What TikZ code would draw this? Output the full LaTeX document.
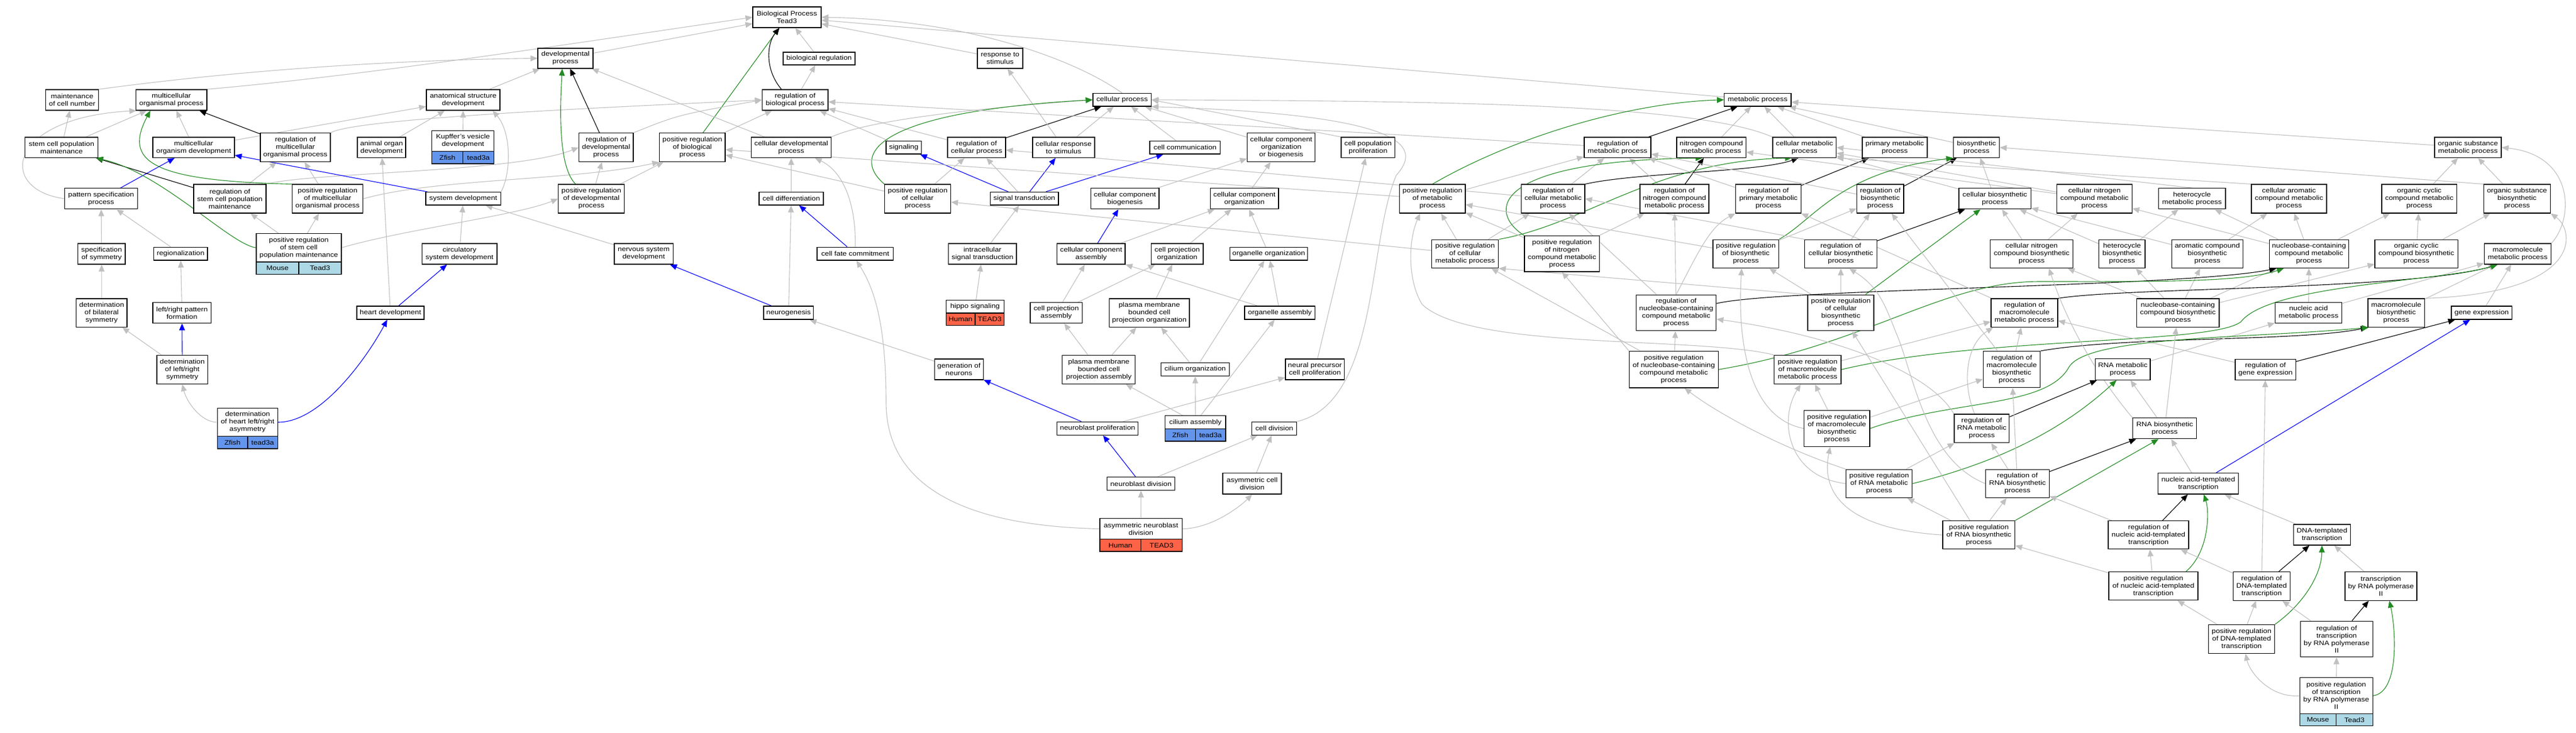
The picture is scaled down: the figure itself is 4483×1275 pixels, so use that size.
\documentclass[tikz,border=0pt]{standalone}
\usepackage{fontspec}
\setmainfont[FakeStretch=1.14]{Liberation Sans}
\usetikzlibrary{arrows.meta}
\pgfdeclarelayer{bgfill}
\pgfdeclarelayer{edges}
\pgfsetlayers{bgfill,edges,main}
\definecolor{egray}{RGB}{192,192,192}
\definecolor{egreen}{RGB}{34,139,34}
\definecolor{eblue}{RGB}{0,0,255}
\definecolor{spmouse}{RGB}{173,216,230}
\definecolor{spfish}{RGB}{100,149,237}
\definecolor{sphuman}{RGB}{255,99,71}
\newcommand\gn[6]{\node[gobox,minimum width={#4-#2},minimum height={#5-#3}] (#1) at ({(#2+#4)/2},{(#3+#5)/2}) {#6};}
\newcommand\gsp[8]{%
\node[spbox,fill=#6,minimum width={(#4-#2)/2},minimum height={#5-#3}] (#1a) at ({#2+(#4-#2)/4},{(#3+#5)/2}) {#7};
\node[spbox,fill=#6,minimum width={(#4-#2)/2},minimum height={#5-#3}] (#1b) at ({#2+3*(#4-#2)/4},{(#3+#5)/2}) {#8};}
\begin{document}
\begin{tikzpicture}[x=1pt,y=-1pt,
  gobox/.style={draw=black,line width=1.3pt,fill=white,inner sep=0pt,align=center,font=\fontsize{11.3}{13}\selectfont},
  spbox/.style={draw=black,line width=1.3pt,inner sep=0pt,align=center,font=\fontsize{11.3}{13}\selectfont},
  edgebase/.style={line width=1.1pt,-{Triangle[length=12pt,width=10pt]}},
  isa/.style={edgebase,draw=egray},
  reg/.style={edgebase,draw=black},
  preg/.style={edgebase,draw=egreen},
  partof/.style={edgebase,draw=eblue}]
\useasboundingbox (0,0) rectangle (4483,1275);
\begin{pgfonlayer}{bgfill}
\fill[white] (0,0) rectangle (4483,1275);
\end{pgfonlayer}
% ---------- nodes ----------
\gn{BP}{1310}{12}{1429}{48}{Biological Process\\Tead3}
\gn{devp}{936}{84}{1032}{119}{developmental\\process}
\gn{resp}{1701}{84}{1780}{119}{response to\\stimulus}
\gn{bioreg}{1363}{91}{1488}{113}{biological regulation}
\gn{mcn}{79.5}{156}{171.6}{192}{maintenance\\of cell number}
\gn{mop}{236.5}{156}{360}{192}{multicellular\\organismal process}
\gn{asd}{742}{156}{870}{192}{anatomical structure\\development}
\gn{rbp}{1326.5}{156}{1441}{192}{regulation of\\biological process}
\gn{cp}{1902}{162.5}{2003.5}{185}{cellular process}
\gn{mp}{3000.7}{162.5}{3117}{185}{metabolic process}
% row 3
\gn{scpm}{43.6}{239}{170.6}{274.4}{stem cell population\\maintenance}
\gn{mod}{266}{239}{408}{274.4}{multicellular\\organism development}
\gn{rmop}{453}{231.7}{575}{281.5}{regulation of\\multicellular\\organismal process}
\gn{aod}{622}{239}{706}{274.4}{animal organ\\development}
\gn{kvd}{751.6}{227.8}{859.7}{263.3}{Kupffer's vesicle\\development}
\gsp{kvdsp}{751.6}{263.3}{859.7}{285.1}{spfish}{Zfish}{tead3a}
\gn{rdp}{1007.6}{231.7}{1102}{281.5}{regulation of\\developmental\\process}
\gn{prbp}{1147.7}{231.7}{1262}{281.5}{positive regulation\\of biological\\process}
\gn{cdp}{1307.6}{239}{1446.3}{274.4}{cellular developmental\\process}
\gn{sig}{1542}{245.2}{1603.6}{268.1}{signaling}
\gn{rcp}{1649}{239}{1750}{274.4}{regulation of\\cellular process}
\gn{crs}{1797}{239}{1905}{274.4}{cellular response\\to stimulus}
\gn{cc}{2001}{245.2}{2123.7}{268.1}{cell communication}
\gn{ccob}{2170.7}{231.7}{2288.8}{281.5}{cellular component\\organization\\or biogenesis}
\gn{cpp}{2334}{239}{2427.5}{274.4}{cell population\\proliferation}
\gn{rmp}{2757}{239}{2873}{274.4}{regulation of\\metabolic process}
\gn{ncmp}{2918}{239}{3038.5}{274.4}{nitrogen compound\\metabolic process}
\gn{cmp}{3085}{239}{3195.6}{274.4}{cellular metabolic\\process}
\gn{pmp}{3241}{239}{3354}{274.4}{primary metabolic\\process}
\gn{bsp}{3399.6}{239}{3479.6}{274.4}{biosynthetic\\process}
\gn{osmp}{4236.8}{239}{4353}{274.4}{organic substance\\metabolic process}
% row 4
\gn{pss}{112.5}{327.8}{239.5}{363.8}{pattern specification\\process}
\gn{rscpm}{337}{321.1}{463}{370.9}{regulation of\\stem cell population\\maintenance}
\gn{prmop}{508.5}{321.1}{631.6}{370.9}{positive regulation\\of multicellular\\organismal process}
\gn{sd}{741}{334.5}{871.4}{357}{system development}
\gn{prdp}{971.7}{321.1}{1086.6}{370.9}{positive regulation\\of developmental\\process}
\gn{cdiff}{1321}{334.5}{1433}{357}{cell differentiation}
\gn{prcp}{1539.6}{321.1}{1654.5}{370.9}{positive regulation\\of cellular\\process}
\gn{st}{1723.3}{334.5}{1842}{357}{signal transduction}
\gn{ccb}{1898.3}{327.8}{2017}{363.8}{cellular component\\biogenesis}
\gn{cco}{2106.3}{327.8}{2225}{363.8}{cellular component\\organization}
\gn{prmp}{2435.7}{321.1}{2550}{370.9}{positive regulation\\of metabolic\\process}
\gn{rcmp}{2647.5}{321.1}{2758}{370.9}{regulation of\\cellular metabolic\\process}
\gn{rncmp}{2854}{321.1}{2974}{370.9}{regulation of\\nitrogen compound\\metabolic process}
\gn{rpmp}{3020.6}{321.1}{3134.5}{370.9}{regulation of\\primary metabolic\\process}
\gn{rbsp}{3231.5}{321.1}{3313}{370.9}{regulation of\\biosynthetic\\process}
\gn{cbsp}{3408.9}{327.8}{3534.4}{363.8}{cellular biosynthetic\\process}
\gn{cncmp}{3579.5}{321.1}{3710.4}{370.9}{cellular nitrogen\\compound metabolic\\process}
\gn{hmp}{3756.5}{327.8}{3872.8}{363.8}{heterocycle\\metabolic process}
\gn{camp}{3918}{321.1}{4049}{370.9}{cellular aromatic\\compound metabolic\\process}
\gn{occmp}{4144.8}{321.1}{4275.7}{370.9}{organic cyclic\\compound metabolic\\process}
\gn{osbp}{4322.4}{321.1}{4438.2}{370.9}{organic substance\\biosynthetic\\process}
% row 5
\gn{sos}{135.7}{423.9}{218}{459.9}{specification\\of symmetry}
\gn{reg}{267.6}{430.2}{361}{453.1}{regionalization}
\gn{prscpm}{446}{406.5}{594}{455.9}{positive regulation\\of stem cell\\population maintenance}
\gsp{prscpmsp}{446}{455.9}{594}{477.3}{spmouse}{Mouse}{Tead3}
\gn{csd}{734.4}{423.9}{865}{459.9}{circulatory\\system development}
\gn{nsd}{1069}{423.9}{1171.4}{459.9}{nervous system\\development}
\gn{cfc}{1422}{430.2}{1554.6}{453.1}{cell fate commitment}
\gn{ist}{1650.6}{423.9}{1769}{459.9}{intracellular\\signal transduction}
\gn{cca}{1839.7}{423.9}{1958}{459.9}{cellular component\\assembly}
\gn{cpo}{2003.5}{423.9}{2094}{459.9}{cell projection\\organization}
\gn{oo}{2140.2}{430.2}{2275.7}{453.1}{organelle organization}
\gn{prcmp}{2491.5}{417.2}{2607.8}{466.6}{positive regulation\\of cellular\\metabolic process}
\gn{prncmp}{2652.9}{410.4}{2783.7}{472.9}{positive regulation\\of nitrogen\\compound metabolic\\process}
\gn{prbsp}{2981}{417.2}{3095.6}{466.6}{positive regulation\\of biosynthetic\\process}
\gn{rcbsp}{3140.8}{417.2}{3266.4}{466.6}{regulation of\\cellular biosynthetic\\process}
\gn{cncbp}{3463.6}{417.2}{3607.6}{466.6}{cellular nitrogen\\compound biosynthetic\\process}
\gn{hbp}{3652.8}{417.2}{3733}{466.6}{heterocycle\\biosynthetic\\process}
\gn{acbp}{3779.4}{417.2}{3903.5}{466.6}{aromatic compound\\biosynthetic\\process}
\gn{nccmp}{3949.2}{417.2}{4087.4}{466.6}{nucleobase-containing\\compound metabolic\\process}
\gn{occbp}{4133}{417.2}{4277.2}{466.6}{organic cyclic\\compound biosynthetic\\process}
\gn{mmp}{4323.4}{423.9}{4439.7}{459.9}{macromolecule\\metabolic process}
% row 6
\gn{dbs}{132.8}{520}{221}{569.4}{determination\\of bilateral\\symmetry}
\gn{lrpf}{266}{526.7}{367.4}{562.3}{left/right pattern\\formation}
\gn{hd}{621}{533}{738}{556}{heart development}
\gn{ns}{1329}{533}{1415.7}{556}{neurogenesis}
\gn{hippo}{1646.3}{522.7}{1747.6}{544.9}{hippo signaling}
\gsp{hipposp}{1646.3}{544.9}{1747.6}{566.6}{sphuman}{Human}{TEAD3}
\gn{cpa}{1793}{526.7}{1883.3}{562.3}{cell projection\\assembly}
\gn{pmbcpo}{1930.3}{520}{2070}{569.4}{plasma membrane\\bounded cell\\projection organization}
\gn{oa}{2166}{533}{2288.8}{556}{organelle assembly}
\gn{rnccmp}{2847.6}{513.2}{2986.6}{575.7}{regulation of\\nucleobase-containing\\compound metabolic\\process}
\gn{prcbsp}{3146}{513.2}{3261}{575.7}{positive regulation\\of cellular\\biosynthetic\\process}
\gn{rmmp}{3465}{520}{3581}{569.4}{regulation of\\macromolecule\\metabolic process}
\gn{nccbp}{3718.3}{520}{3862}{569.4}{nucleobase-containing\\compound biosynthetic\\process}
\gn{namp}{3959.4}{526.7}{4075.7}{562.3}{nucleic acid\\metabolic process}
\gn{mbp}{4121}{520}{4219.3}{569.4}{macromolecule\\biosynthetic\\process}
\gn{ge}{4266}{533}{4371.6}{556}{gene expression}
% row 7
\gn{dlrs}{273}{618.3}{361.4}{668.3}{determination\\of left/right\\symmetry}
\gn{gon}{1626.3}{625}{1711.2}{661}{generation of\\neurons}
\gn{pmbcpa}{1848.8}{618.3}{1975.8}{668.3}{plasma membrane\\bounded cell\\projection assembly}
\gn{cio}{2020.7}{631.3}{2139.3}{654.7}{cilium organization}
\gn{npcp}{2237}{625}{2339.7}{661}{neural precursor\\cell proliferation}
\gn{prnccmp}{2835.5}{611.5}{2990.2}{675}{positive regulation\\of nucleobase-containing\\compound metabolic\\process}
\gn{prmmp}{3087.5}{618.3}{3204}{668.3}{positive regulation\\of macromolecule\\metabolic process}
\gn{rmbp}{3451.3}{611.5}{3550.7}{674.5}{regulation of\\macromolecule\\biosynthetic\\process}
\gn{rnamp}{3646.4}{624.8}{3742.1}{661.2}{RNA metabolic\\process}
\gn{rge}{3889.8}{625.2}{3995.4}{661.2}{regulation of\\gene expression}
% row 8
\gn{dhlra}{378.2}{710.3}{483.5}{759.7}{determination\\of heart left/right\\asymmetry}
\gsp{dhlrasp}{378.2}{759.7}{483.5}{781}{spfish}{Zfish}{tead3a}
\gn{nbp}{1839.6}{734.3}{1980.7}{757.3}{neuroblast proliferation}
\gn{cia}{2027.7}{723.7}{2133}{746.7}{cilium assembly}
\gsp{ciasp}{2027.7}{746.7}{2133}{768}{spfish}{Zfish}{tead3a}
\gn{cdv}{2178.6}{734.3}{2256.8}{757.3}{cell division}
\gn{prmbp}{3139.6}{714.3}{3254}{777.3}{positive regulation\\of macromolecule\\biosynthetic\\process}
\gn{rrnamp}{3400.9}{721}{3496.8}{770.7}{regulation of\\RNA metabolic\\process}
\gn{rnabp}{3711.6}{727.8}{3822.7}{763.8}{RNA biosynthetic\\process}
% row 9
\gn{nbd}{1926.7}{830.7}{2044.6}{853.3}{neuroblast division}
\gn{acd}{2128}{823.3}{2230}{860}{asymmetric cell\\division}
\gn{prrnamp}{3212.8}{817.2}{3327.7}{866.4}{positive regulation\\of RNA metabolic\\process}
\gn{rrnabp}{3455.6}{817.2}{3566.2}{866.4}{regulation of\\RNA biosynthetic\\process}
\gn{nat}{3755.5}{823.6}{3895.7}{860}{nucleic acid-templated\\transcription}
% row 10
\gn{anbd}{1914}{902.3}{2057.2}{938.7}{asymmetric neuroblast\\division}
\gsp{anbdsp}{1914}{938.7}{2057.2}{960}{sphuman}{Human}{TEAD3}
\gn{prrnabp}{3381}{906.6}{3506.6}{955.8}{positive regulation\\of RNA biosynthetic\\process}
\gn{rnat}{3669}{906.6}{3809}{955.8}{regulation of\\nucleic acid-templated\\transcription}
\gn{dt}{3991.5}{913}{4090.3}{949}{DNA-templated\\transcription}
% row 11
\gn{prnat}{3670}{995.5}{3825}{1044.7}{positive regulation\\of nucleic acid-templated\\transcription}
\gn{rdt}{3886.4}{995.5}{3985.2}{1045.2}{regulation of\\DNA-templated\\transcription}
\gn{trp}{4081}{995.5}{4206}{1045.2}{transcription\\by RNA polymerase\\II}
% row 12
\gn{prdt}{3843.6}{1087.6}{3958.4}{1137.3}{positive regulation\\of DNA-templated\\transcription}
\gn{rtrp}{4003.7}{1081.2}{4129.2}{1143.7}{regulation of\\transcription\\by RNA polymerase\\II}
% row 13
\gn{prtrp}{4002.2}{1179.7}{4129.2}{1242.6}{positive regulation\\of transcription\\by RNA polymerase\\II}
\gsp{prtrpsp}{4002.2}{1242.6}{4129.2}{1263.6}{spmouse}{Mouse}{Tead3}
% ---------- edges ----------
\begin{pgfonlayer}{edges}
% left cluster
\draw[isa] (mcn.north east) .. controls (450,118) and (720,104) .. (devp.west);
\draw[isa] (mop.north east) .. controls (650,130) and (1000,75) .. (BP.west);
\draw[isa] (scpm) -- (mcn);
\draw[isa] (scpm) -- (mop);
\draw[isa] (mod) -- (mop);
\draw[isa] (mod) -- (asd);
\draw[isa] (pss.west) .. controls (-5,330) and (10,205) .. (mop.-163);
\draw[partof] (pss) -- (mod);
\draw[reg] (rmop) -- (mop);
\draw[isa] (rmop.north east) .. controls (620,205) and (1100,185) .. (rbp.west);
\draw[reg] (rscpm) -- (scpm);
\draw[isa] (rscpm) -- (rmop);
\draw[isa] (rscpm.north east) .. controls (540,300) and (900,300) .. (rdp.west);
\draw[isa] (prmop) -- (rmop);
\draw[preg] (prmop.north west) .. controls (260,315) and (215,280) .. (mop.-153);
\draw[isa] (prmop.east) .. controls (760,310) and (1000,315) .. (prbp.south west);
\draw[preg] (prscpm.west) .. controls (400,425) and (280,300) .. (scpm.-17);
\draw[isa] (prscpm) -- (rscpm);
\draw[isa] (prscpm) -- (prmop);
\draw[isa] (prscpm.east) .. controls (700,400) and (900,375) .. (prdp.west);
\draw[isa] (aod) -- (asd);
\draw[isa] (hd) -- (aod);
\draw[partof] (hd) -- (csd);
\draw[partof] (dhlra.east) .. controls (560,735) and (640,620) .. (hd.-115);
\draw[isa] (dhlra.west) .. controls (350,735) and (325,700) .. (dlrs.south);
\draw[partof] (dlrs) -- (lrpf);
\draw[isa] (dlrs) -- (dbs);
\draw[isa] (dbs) -- (sos);
\draw[isa] (sos) -- (pss);
\draw[isa] (reg) -- (pss);
\draw[isa] (lrpf) -- (reg);
\draw[partof] (sd) -- (mod);
\draw[isa] (sd.north east) .. controls (890,300) and (890,230) .. (asd.-20);
\draw[isa] (csd) -- (sd);
\draw[isa] (nsd) -- (sd);
\draw[isa] (kvd) -- (asd);
\draw[isa] (asd) -- (devp);
% middle
\draw[isa] (devp) -- (BP);
\draw[reg] (rdp) -- (devp);
\draw[preg] (prdp.137) .. controls (970,290) and (975,180) .. (devp.-107);
\draw[isa] (prdp) -- (rdp);
\draw[isa] (prdp) -- (prbp);
\draw[preg] (prbp) -- (BP);
\draw[isa] (prbp) -- (rbp);
\draw[reg] (rbp.142) .. controls (1330,120) and (1335,75) .. (BP.-125);
\draw[isa] (rbp) -- (bioreg);
\draw[isa] (bioreg) -- (BP);
\draw[isa] (rdp.north east) .. controls (1180,200) .. (rbp.west);
\draw[isa] (cdp) -- (devp);
\draw[isa] (cdp.north east) .. controls (1520,205) and (1750,185) .. (cp.west);
\draw[isa] (cdiff) -- (cdp);
\draw[partof] (cfc) -- (cdiff);
\draw[isa] (cfc.north) .. controls (1490,360) and (1470,300) .. (cdp.-24);
\draw[isa] (ns) -- (cdiff);
\draw[partof] (ns) -- (nsd);
\draw[isa] (gon) -- (ns);
\draw[isa] (sig) -- (rbp);
\draw[isa] (rcp) -- (rbp);
\draw[reg] (rcp) -- (cp);
\draw[isa] (crs) -- (cp);
\draw[isa] (crs) -- (resp);
\draw[isa] (resp) -- (BP);
\draw[isa] (cp.north) .. controls (1880,110) and (1700,35) .. (BP.east);
\draw[isa] (mp) -- (BP);
\draw[isa] (cc) -- (cp);
\draw[isa] (ccob) -- (cp);
\draw[isa] (cpp.north west) -- (cp.east);
\draw[isa] (cdv.north east) .. controls (2400,700) and (2380,420) .. (2430,305) .. controls (2470,260) and (2470,200) .. (cp.south east);
\draw[isa] (cmp.north west) .. controls (2950,180) and (2500,176) .. (cp.east);
\draw[partof] (st) -- (sig);
\draw[partof] (st) -- (crs);
\draw[partof] (st) -- (cc);
\draw[isa] (st) -- (rcp);
\draw[isa] (prcp) -- (rcp);
\draw[preg] (prcp.north west) .. controls (1480,270) and (1520,195) .. (cp.west);
\draw[isa] (prcp) -- (prbp);
\draw[isa] (ist) -- (st);
\draw[isa] (hippo) -- (ist);
\draw[isa] (ccb) -- (ccob);
\draw[isa] (cco) -- (ccob);
\draw[partof] (cca) -- (ccb);
\draw[isa] (cca) -- (cco);
\draw[isa] (cpo) -- (cco);
\draw[isa] (oo) -- (cco);
\draw[isa] (cpa) -- (cca);
\draw[isa] (cpa) -- (cpo);
\draw[isa] (pmbcpo) -- (cpo);
\draw[isa] (oa) -- (cca);
\draw[isa] (oa) -- (oo);
\draw[isa] (pmbcpa) -- (cpa);
\draw[isa] (pmbcpa) -- (pmbcpo);
\draw[isa] (cio) -- (pmbcpo);
\draw[isa] (cio) -- (oo);
\draw[isa] (cia) -- (cio);
\draw[isa] (cia) -- (pmbcpa);
\draw[isa] (cia) -- (oa);
\draw[partof] (nbp) -- (gon);
\draw[isa] (nbp) -- (npcp);
\draw[isa] (npcp) -- (cpp);
\draw[partof] (nbd) -- (nbp);
\draw[isa] (nbd) -- (cdv);
\draw[isa] (acd) -- (cdv);
\draw[isa] (anbd) -- (nbd);
\draw[isa] (anbd.east) .. controls (2110,920) and (2160,880) .. (acd.south);
\draw[isa] (anbd.west) .. controls (1650,915) and (1542,830) .. (1542,700) .. controls (1542,560) and (1520,500) .. (cfc.-80);
\draw[isa] (rmp) -- (rbp);
\draw[isa] (rcmp) -- (rcp);
\draw[isa] (prmp) -- (prbp);
\draw[isa] (prcmp) -- (prcp);
% right cluster, upper
\draw[reg] (rmp) -- (mp);
\draw[preg] (prmp.north) .. controls (2650,230) and (2850,178) .. (mp.west);
\draw[isa] (prmp) -- (rmp);
\draw[isa] (rcmp) -- (rmp);
\draw[reg] (rcmp.north east) .. controls (2850,300) and (3060,300) .. (cmp.-120);
\draw[isa] (rncmp) -- (rmp);
\draw[reg] (rncmp) -- (ncmp);
\draw[isa] (prcmp) -- (prmp);
\draw[isa] (prcmp) -- (rcmp);
\draw[preg] (prcmp.north east) .. controls (2760,390) and (2880,280) .. (cmp.-140);
\draw[isa] (prncmp) -- (prmp);
\draw[isa] (prncmp) -- (rncmp);
\draw[preg] (prncmp.north west) .. controls (2590,370) and (2590,280) .. (ncmp.-130);
\draw[isa] (ncmp) -- (mp);
\draw[isa] (cmp) -- (mp);
\draw[isa] (pmp) -- (mp);
\draw[isa] (bsp) -- (mp);
\draw[isa] (osmp) -- (mp);
\draw[reg] (rpmp) -- (pmp);
\draw[isa] (rpmp) -- (rmp);
\draw[reg] (rbsp) -- (bsp);
\draw[isa] (rbsp) -- (rmp);
\draw[isa] (cbsp) -- (bsp);
\draw[isa] (cbsp) -- (cmp);
\draw[isa] (cncmp) -- (cmp);
\draw[isa] (cncmp) -- (ncmp);
\draw[isa] (hmp.north) -- (cmp.east);
\draw[isa] (camp.north west) -- (cmp.south east);
\draw[isa] (prbsp) -- (prmp);
\draw[isa] (prbsp) -- (rbsp);
\draw[preg] (prbsp.north east) .. controls (3160,380) and (3200,300) .. (bsp.south west);
\draw[isa] (rcbsp) -- (rbsp);
\draw[reg] (rcbsp) -- (cbsp);
\draw[isa] (rcbsp.north west) -- (rcmp.east);
\draw[isa] (prcbsp) -- (prbsp);
\draw[isa] (prcbsp) -- (rcbsp);
\draw[preg] (prcbsp) -- (cbsp);
\draw[isa] (prcbsp.north west) -- (prcmp.south east);
\draw[isa] (cncbp) -- (cbsp);
\draw[isa] (cncbp) -- (cncmp);
\draw[isa] (hbp) -- (cbsp);
\draw[isa] (hbp) -- (hmp);
\draw[isa] (acbp) -- (camp);
\draw[isa] (acbp) -- (cbsp);
\draw[isa] (nccmp) -- (hmp);
\draw[isa] (nccmp) -- (camp);
\draw[isa] (nccmp) -- (occmp);
\draw[isa] (nccmp) -- (cncmp);
\draw[isa] (occmp) -- (osmp);
\draw[isa] (osbp) -- (osmp);
\draw[isa] (osbp.north west) -- (bsp.east);
\draw[isa] (occbp) -- (occmp);
\draw[isa] (occbp) -- (osbp);
\draw[isa] (mmp.north east) .. controls (4480,380) and (4480,270) .. (osmp.east);
\draw[isa] (nccbp) -- (hbp);
\draw[isa] (nccbp) -- (acbp);
\draw[isa] (nccbp) -- (occbp);
\draw[isa] (nccbp) -- (nccmp);
\draw[isa] (nccbp) -- (cncbp);
\draw[isa] (namp) -- (nccmp);
\draw[isa] (namp) -- (mmp);
\draw[isa] (mbp) -- (mmp);
\draw[isa] (mbp.north east) .. controls (4500,510) and (4480,400) .. (osbp.south east);
\draw[isa] (ge) -- (mmp);
% right cluster, lower
\draw[isa] (rnccmp) -- (rcmp);
\draw[isa] (rnccmp) -- (rncmp);
\draw[isa] (rnccmp.north) .. controls (2955,440) and (2975,395) .. (rpmp.south west);
\draw[reg] (rnccmp.13) .. controls (3100,502) and (3800,500) .. (nccmp.-156);
\draw[isa] (prnccmp) -- (rnccmp);
\draw[preg] (prnccmp.east) .. controls (3250,600) and (3380,490) .. (3550,490) .. controls (3750,490) and (3900,492) .. (nccmp.-150);
\draw[isa] (prnccmp) -- (prcmp);
\draw[isa] (prnccmp.north west) -- (prncmp.south);
\draw[isa] (rmmp) -- (rpmp);
\draw[reg] (rmmp.north east) .. controls (3700,500) and (4200,505) .. (mmp.-152);
\draw[isa] (prmmp.north west) .. controls (2950,585) and (2560,610) .. (2475,530) .. controls (2450,490) and (2450,420) .. (prmp.-130);
\draw[isa] (prmmp) -- (rmmp);
\draw[preg] (prmmp.east) .. controls (3450,585) and (3850,600) .. (3900,560) .. controls (3950,495) and (4250,490) .. (mmp.-152);
\draw[isa] (rmbp) -- (rmmp);
\draw[isa] (rmbp) -- (rbsp);
\draw[reg] (rmbp.north east) .. controls (3700,585) and (4000,595) .. (mbp.south west);
\draw[isa] (rnamp) -- (namp);
\draw[isa] (rge) -- (rmmp);
\draw[reg] (rge) -- (ge);
\draw[isa] (prmbp) -- (prmmp);
\draw[isa] (prmbp) -- (rmbp);
\draw[isa] (prmbp.west) .. controls (3030,725) and (3025,560) .. (prbsp.-106);
\draw[preg] (prmbp.east) .. controls (3400,695) and (3560,710) .. (3600,640) .. controls (3630,585) and (3900,590) .. (mbp.-152);
\draw[isa] (rrnamp.116) .. controls (3415,670) and (3420,600) .. (rmmp.-155);
\draw[isa] (rrnamp.north west) .. controls (3360,650) and (3200,585) .. (rnccmp.-9);
\draw[reg] (rrnamp) -- (rnamp);
\draw[isa] (rnabp) -- (rnamp);
\draw[isa] (rnabp) -- (nccbp);
\draw[isa] (rnabp.north west) .. controls (3680,690) and (3610,600) .. (cncbp.-40);
\draw[isa] (prrnamp.west) .. controls (3110,830) and (3095,730) .. (prmmp.-115);
\draw[isa] (prrnamp) -- (rrnamp);
\draw[isa] (prrnamp.north west) .. controls (3100,780) and (2990,720) .. (prnccmp.-60);
\draw[preg] (prrnamp.east) .. controls (3520,795) and (3620,720) .. (rnamp.-120);
\draw[isa] (rrnabp) -- (rrnamp);
\draw[reg] (rrnabp) -- (rnabp);
\draw[isa] (rrnabp) -- (rmbp);
\draw[isa] (rrnabp.west) .. controls (3350,800) and (3330,650) .. (3300,580) .. controls (3280,530) and (3270,500) .. (rcbsp.-60);
\draw[isa] (nat) -- (rnabp);
\draw[partof] (nat) -- (ge);
\draw[isa] (prrnabp) -- (prrnamp);
\draw[isa] (prrnabp) -- (rrnabp);
\draw[isa] (prrnabp.west) .. controls (3200,920) and (3170,850) .. (prmbp.-110);
\draw[isa] (prrnabp) -- (prcbsp);
\draw[preg] (prrnabp.north east) -- (rnabp.-120);
\draw[isa] (rnat) -- (rrnabp);
\draw[reg] (rnat) -- (nat);
\draw[isa] (dt) -- (nat);
\draw[isa] (prnat) -- (prrnabp);
\draw[isa] (prnat) -- (rnat);
\draw[preg] (prnat.24) .. controls (3845,960) and (3845,890) .. (nat.-63);
\draw[isa] (rdt) -- (rnat);
\draw[isa] (rdt) -- (rge);
\draw[reg] (rdt) -- (dt);
\draw[isa] (trp) -- (dt);
\draw[isa] (prdt) -- (prnat);
\draw[isa] (prdt) -- (rdt);
\draw[preg] (prdt.north east) .. controls (4010,1050) and (4040,1000) .. (dt.south);
\draw[isa] (rtrp) -- (rdt);
\draw[reg] (rtrp) -- (trp);
\draw[isa] (prtrp.west) .. controls (3950,1215) and (3915,1170) .. (prdt.-75);
\draw[isa] (prtrp) -- (rtrp);
\draw[preg] (prtrp.east) .. controls (4175,1205) and (4170,1100) .. (trp.-60);
\end{pgfonlayer}
\end{tikzpicture}
\end{document}
